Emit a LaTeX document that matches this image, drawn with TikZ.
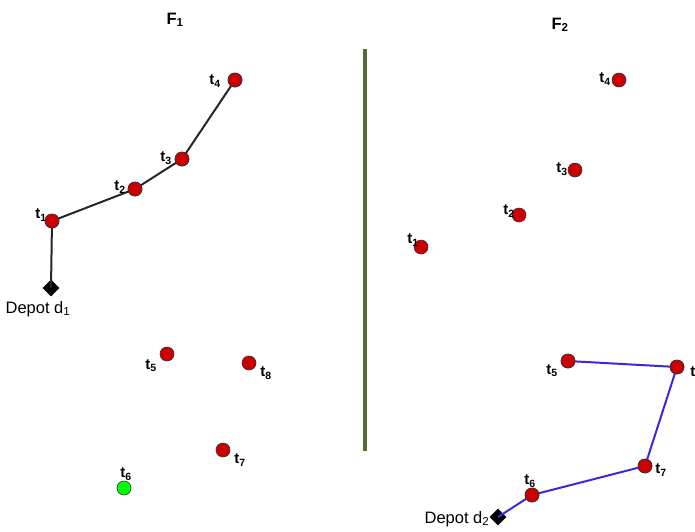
\documentclass[tikz,border=0pt]{standalone}
\usepackage{fontspec}
\setmainfont{Liberation Sans}
\usetikzlibrary{shapes.geometric}
\definecolor{tred}{HTML}{CC0000}
\definecolor{olive}{HTML}{556B2F}
\definecolor{routeblue}{HTML}{3A28E0}
\newcommand{\tk}[1]{t\textsubscript{#1}}
\begin{document}
\begin{tikzpicture}[x=1pt,y=-1pt,
  task/.style={circle,draw=black!80,line width=0.6pt,fill=tred,minimum size=14pt,inner sep=0pt},
  donetask/.style={task,fill=green},
  depot/.style={diamond,fill=black,minimum size=17pt,inner sep=0pt},
  lbl/.style={font=\fontsize{15}{15}\selectfont\bfseries,inner sep=0pt},
  dlbl/.style={font=\fontsize{16.5}{16.5}\selectfont,inner sep=0pt},
  ttl/.style={font=\fontsize{16.5}{16.5}\selectfont\bfseries,inner sep=0pt},
  route1/.style={draw=black!85,line width=2pt},
  route2/.style={draw=routeblue,line width=2pt}]
\useasboundingbox (0,0) rectangle (695,531);
% titles
\node[ttl] (F1) at (175,20) {F\textsubscript{1}};
\node[ttl] (F2) at (560,25) {F\textsubscript{2}};
% divider
\coordinate (dtop) at (365,49);
\coordinate (dbot) at (365,451);
\draw[olive,line width=4pt] (dtop) -- (dbot);
% left panel
\node[depot] (d1) at (51,288) {};
\node[task] (a1) at (52,221) {};
\node[task] (a2) at (135,189) {};
\node[task] (a3) at (182,159) {};
\node[task] (a4) at (235,80) {};
\node[task] (a5) at (167,354) {};
\node[task] (a8) at (249,363) {};
\node[task] (a7) at (223,450) {};
\node[donetask] (a6) at (124,488) {};
\draw[route1] (d1.center) -- (a1.center) -- (a2.center) -- (a3.center) -- (a4.center);
\foreach \n in {a1,a2,a3,a4} \node[task] at (\n) {};
\node[lbl] (la1) at (41,215) {\tk{1}};
\node[lbl] (la2) at (120,187) {\tk{2}};
\node[lbl] (la3) at (166,158) {\tk{3}};
\node[lbl] (la4) at (215,81) {\tk{4}};
\node[lbl] (la5) at (151,366) {\tk{5}};
\node[lbl] (la8) at (266,373) {\tk{8}};
\node[lbl] (la7) at (240,460) {\tk{7}};
\node[lbl] (la6) at (126,474) {\tk{6}};
\node[dlbl] (ld1) at (38,309) {Depot d\textsubscript{1}};
% right panel
\node[depot] (d2) at (498,517) {};
\node[task] (b1) at (421,247) {};
\node[task] (b2) at (519,215) {};
\node[task] (b3) at (575,170) {};
\node[task] (b4) at (619,80) {};
\node[task] (b5) at (568,361) {};
\node[task] (b8) at (677,367) {};
\node[task] (b7) at (645,466) {};
\node[task] (b6) at (532,495) {};
\draw[route2] (d2.center) -- (b6.center) -- (b7.center) -- (b8.center) -- (b5.center);
\foreach \n in {b5,b6,b7,b8} \node[task] at (\n) {};
\node[lbl] (lb1) at (413,240) {\tk{1}};
\node[lbl] (lb2) at (509,211) {\tk{2}};
\node[lbl] (lb3) at (562,169) {\tk{3}};
\node[lbl] (lb4) at (605,79) {\tk{4}};
\node[lbl] (lb5) at (552,371) {\tk{5}};
\node[lbl] (lb8) at (696,373) {\tk{8}};
\node[lbl] (lb7) at (661,470) {\tk{7}};
\node[lbl] (lb6) at (530,481) {\tk{6}};
\node[dlbl] (ld2) at (457,519) {Depot d\textsubscript{2}};
\end{tikzpicture}
\end{document}
